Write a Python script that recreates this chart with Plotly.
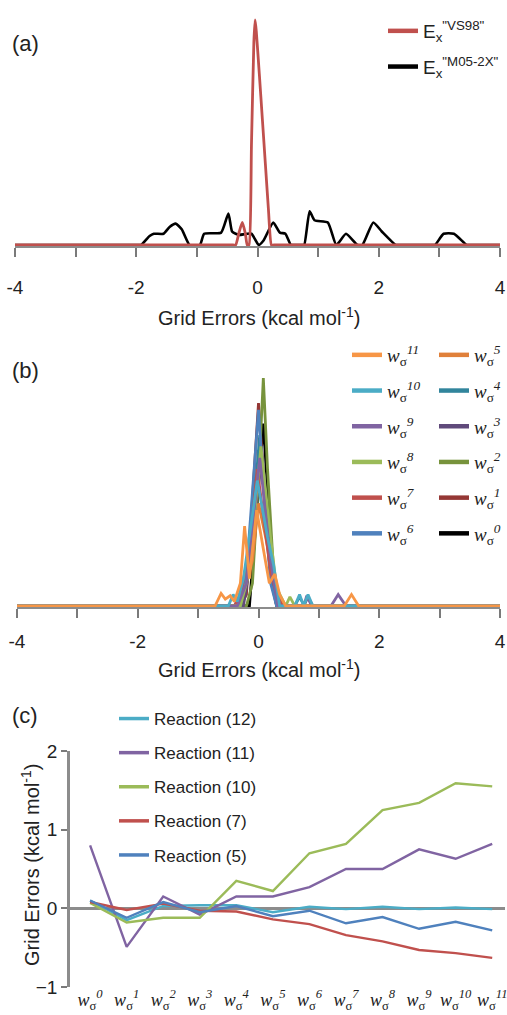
import plotly.graph_objects as go

W, H = 507, 1015

# ---------------- Panel (a) data ----------------
a_vs98_x = [-4, -0.4, -0.36, -0.3, -0.25, -0.2, -0.17, -0.14, -0.1, -0.06, -0.04, -0.02, 0.03, 0.08, 0.13, 0.18,
            0.23, 0.27, 4]
a_vs98_y = [0, 0, 0, 0.06, 0.10, 0.05, 0, 0, 0.44, 0.9, 1.0, 0.95, 0.76, 0.56, 0.36, 0.16,
            0, 0, 0]

a_m05_x = [-4, -1.96, -1.92, -1.78, -1.71, -1.55, -1.45, -1.35, -1.25, -1.12, -0.95, -0.88, -0.6, -0.48,
           -0.42, -0.36, -0.3, -0.1, 0.02, 0.1, 0.26, 0.37, 0.46, 0.55, 0.59, 0.73, 0.77, 0.86, 0.94, 1.16,
           1.3, 1.46, 1.65, 1.73, 1.91, 2.05, 2.28, 2.32, 2.89, 2.93, 3.07, 3.24, 3.45, 3.49, 4]
a_m05_y = [0, 0, 0, 0.04, 0.05, 0.05, 0.08, 0.095, 0.07, 0, 0, 0.05, 0.055, 0.14,
           0.06, 0.05, 0.045, 0.05, 0, 0.02, 0.10, 0.055, 0.05, 0, 0, 0, 0, 0.15, 0.11, 0.10,
           0, 0.05, 0, 0, 0.10, 0.06, 0, 0, 0, 0, 0.05, 0.05, 0, 0, 0]

# ---------------- Panel (b) data ----------------
b_w0_x = [-4, -0.35, -0.3, -0.25, -0.15, 0.08, 0.25, 0.32, 4]
b_w0_y = [0, 0, 0.04, 0, 0, 0.80, 0.1, 0, 0]
b_w1_x = [-4, -0.3, -0.2, -0.1, 0.0, 0.1, 0.2, 0.3, 4]
b_w1_y = [0, 0, 0.05, 0.45, 0.89, 0.5, 0.12, 0, 0]
b_w2_x = [-4, -0.2, -0.1, 0.0, 0.08, 0.15, 0.25, 0.35, 4]
b_w2_y = [0, 0, 0.1, 0.55, 1.0, 0.6, 0.15, 0, 0]
b_w3_x = [-4, -0.25, -0.1, 0.05, 0.2, 0.3, 0.75, 0.82, 0.9, 4]
b_w3_y = [0, 0, 0.25, 0.7, 0.2, 0, 0, 0.04, 0, 0]
b_w4_x = [-4, -0.3, -0.15, 0.02, 0.15, 0.3, 0.6, 0.68, 0.76, 4]
b_w4_y = [0, 0, 0.2, 0.75, 0.3, 0, 0, 0.04, 0, 0]
b_w5_x = [-4, -0.35, -0.25, -0.1, 0.0, 0.12, 0.25, 0.35, 0.45, 4]
b_w5_y = [0, 0, 0.06, 0.2, 0.45, 0.3, 0.12, 0.03, 0, 0]
b_w6_x = [-4, -0.4, -0.3, -0.2, -0.1, 0.0, 0.1, 0.2, 0.3, 4]
b_w6_y = [0, 0, 0.05, 0.15, 0.5, 0.86, 0.45, 0.1, 0, 0]
b_w7_x = [-4, -0.4, -0.3, -0.15, -0.02, 0.1, 0.2, 0.3, 0.4, 4]
b_w7_y = [0, 0, 0.05, 0.25, 0.6, 0.35, 0.15, 0.05, 0, 0]
b_w8_x = [-4, -0.3, -0.15, 0.04, 0.2, 0.3, 0.45, 0.52, 0.6, 4]
b_w8_y = [0, 0, 0.15, 0.7, 0.3, 0.08, 0, 0.04, 0, 0]
b_w9_x = [-4, -0.35, -0.2, 0.02, 0.2, 0.32, 0.75, 0.8, 0.88, 1.2, 1.32, 1.45, 4]
b_w9_y = [0, 0, 0.1, 0.65, 0.2, 0, 0, 0.045, 0, 0, 0.05, 0, 0]
b_w10_x = [-4, -0.5, -0.42, -0.35, -0.25, -0.02, 0.15, 0.25, 0.35, 0.6, 0.68, 0.75, 0.82, 0.9, 4]
b_w10_y = [0, 0, 0.05, 0.02, 0.12, 0.55, 0.3, 0.18, 0, 0, 0.05, 0, 0.05, 0, 0]
b_w11_x = [-4, -0.72, -0.62, -0.55, -0.47, -0.4, -0.3, -0.23, -0.15, -0.03, 0.08, 0.18, 0.27, 0.35, 0.45,
           1.42, 1.54, 1.66, 4]
b_w11_y = [0, 0, 0.055, 0.03, 0.045, 0.02, 0.1, 0.35, 0.12, 0.42, 0.25, 0.1, 0.14, 0.05, 0,
           0, 0.05, 0, 0]

# ---------------- Panel (c) data ----------------
c_categories = ["w0", "w1", "w2", "w3", "w4", "w5", "w6", "w7", "w8", "w9", "w10", "w11"]
c_r12 = [0.10, -0.15, 0.03, 0.04, 0.04, -0.05, 0.02, -0.01, 0.02, -0.01, 0.01, -0.01]
c_r11 = [0.80, -0.49, 0.15, -0.08, 0.15, 0.15, 0.27, 0.50, 0.50, 0.75, 0.63, 0.82]
c_r10 = [0.07, -0.18, -0.12, -0.12, 0.35, 0.22, 0.70, 0.82, 1.25, 1.34, 1.59, 1.55]
c_r7 = [0.08, -0.02, 0.06, -0.03, -0.04, -0.14, -0.20, -0.34, -0.42, -0.53, -0.57, -0.63]
c_r5 = [0.10, -0.12, 0.08, -0.05, 0.03, -0.10, -0.03, -0.19, -0.11, -0.26, -0.17, -0.28]

FONT = "Liberation Sans, Arial, sans-serif"
SERIF = "Liberation Serif, Times New Roman, serif"
TXT = "#222222"
AXC = "#8c8c8c"


def ypaper(px):
    return 1 - px / H


def xpaper(px):
    return px / W


def wlabel(k):
    return f"<i>w</i><sub>σ</sub><sup><i>{k}</i></sup>"


fig = go.Figure()


def add_series(xs, ys, color, width, name, xa, ya, legend, rank, shape, leg_width):
    line = dict(color=color, width=width, shape=shape)
    if shape == "spline":
        line["smoothing"] = 0.5
    fig.add_trace(go.Scatter(x=xs, y=ys, mode="lines", line=line, name=name, xaxis=xa, yaxis=ya,
                             legend=legend, showlegend=False, hoverinfo="skip"))
    # legend entry (thicker sample line, like the reference)
    fig.add_trace(go.Scatter(x=[None], y=[None], mode="lines", line=dict(color=color, width=leg_width),
                             name=name, xaxis=xa, yaxis=ya, legend=legend, legendrank=rank,
                             legendgroup=f"{legend}_{rank}", showlegend=True))


# Panel (a)
add_series(a_m05_x, a_m05_y, "#000000", 2.6, 'E<sub>x</sub><sup>"M05-2X"</sup>', "x", "y", "legend", 2, "spline", 4.5)
add_series(a_vs98_x, a_vs98_y, "#c0504d", 2.8, 'E<sub>x</sub><sup>"VS98"</sup>', "x", "y", "legend", 1, "spline", 4.5)

# Panel (b)
b_series = [
    (0, b_w0_x, b_w0_y, "#000000", "legend3"),
    (1, b_w1_x, b_w1_y, "#953735", "legend3"),
    (2, b_w2_x, b_w2_y, "#77933c", "legend3"),
    (3, b_w3_x, b_w3_y, "#604a7b", "legend3"),
    (4, b_w4_x, b_w4_y, "#31859c", "legend3"),
    (5, b_w5_x, b_w5_y, "#e0803a", "legend3"),
    (6, b_w6_x, b_w6_y, "#4f81bd", "legend2"),
    (7, b_w7_x, b_w7_y, "#c0504d", "legend2"),
    (8, b_w8_x, b_w8_y, "#9bbb59", "legend2"),
    (9, b_w9_x, b_w9_y, "#8064a2", "legend2"),
    (10, b_w10_x, b_w10_y, "#4bacc6", "legend2"),
    (11, b_w11_x, b_w11_y, "#f79646", "legend2"),
]
for k, xs, ys, col, lg in b_series:
    add_series(xs, ys, col, 2.8, wlabel(k), "x2", "y2", lg, 100 - k, "linear", 4.5)

# Panel (c)
c_series = [
    ("Reaction (12)", c_r12, "#4bacc6"),
    ("Reaction (11)", c_r11, "#8064a2"),
    ("Reaction (10)", c_r10, "#9bbb59"),
    ("Reaction (7)", c_r7, "#c0504d"),
    ("Reaction (5)", c_r5, "#4f81bd"),
]
for i, (nm, ys, col) in enumerate(c_series):
    add_series(c_categories, ys, col, 2.4, nm, "x3", "y3", "legend4", i + 1, "linear", 3.5)

# ---- axes geometry (pixel based) ----
ya_lo, ya_hi = -0.004, 1.06
pa = (245 - 20) / 1.0
a_bot = 245 + (-ya_lo) * pa
a_top = a_bot - (ya_hi - ya_lo) * pa
pb = (606 - 378) / 1.0
b_bot = 606 + (-ya_lo) * pb
b_top = b_bot - (ya_hi - ya_lo) * pb

ticks_a = [-4, -3, -2, -1, 0, 1, 2, 3, 4]
ticktext_a = ["-4", "", "-2", "", "0", "", "2", "", "4"]

common_x = dict(range=[-4, 4], showgrid=False, zeroline=False, showline=True, linecolor=AXC,
                linewidth=2.2, ticks="outside", ticklen=9, tickwidth=2, tickcolor="#7a7a7a",
                tickvals=ticks_a, ticktext=ticktext_a, tickfont=dict(size=19, color=TXT, family=FONT),
                layer="below traces", fixedrange=True)
common_y = dict(range=[ya_lo, ya_hi], showgrid=False, zeroline=False, showline=False,
                showticklabels=False, ticks="", fixedrange=True)

fig.update_layout(
    width=W, height=H, margin=dict(l=0, r=0, t=0, b=0, autoexpand=False),
    paper_bgcolor="white", plot_bgcolor="white",
    font=dict(family=FONT, color=TXT),
    xaxis=dict(domain=[xpaper(15), xpaper(500)], anchor="y", ticklabelstandoff=14, **common_x),
    yaxis=dict(domain=[ypaper(a_bot), ypaper(a_top)], anchor="x", **common_y),
    xaxis2=dict(domain=[xpaper(17), xpaper(500)], anchor="y2", ticklabelstandoff=7, **common_x),
    yaxis2=dict(domain=[ypaper(b_bot), ypaper(b_top)], anchor="x2", **common_y),
    xaxis3=dict(domain=[xpaper(70), xpaper(505)], anchor="y3", type="category",
                range=[-0.55, 11.35], showgrid=False, zeroline=False, showline=False, ticks="",
                tickvals=c_categories, ticktext=[wlabel(i) for i in range(12)],
                tickfont=dict(size=18, color=TXT, family=SERIF), fixedrange=True),
    yaxis3=dict(domain=[ypaper(987), ypaper(751)], anchor="x3", range=[-1, 2],
                showgrid=False, zeroline=True, zerolinecolor=AXC, zerolinewidth=2.5,
                showline=True, linecolor=AXC, linewidth=2.5, ticks="outside", ticklen=6,
                tickwidth=2, tickcolor="#7a7a7a", tickvals=[-1, 0, 1, 2],
                tickfont=dict(size=19, color=TXT, family=FONT), fixedrange=True),
    legend=dict(x=xpaper(383), y=ypaper(12), xanchor="left", yanchor="top",
                bgcolor="rgba(0,0,0,0)", font=dict(size=19, family=FONT, color=TXT),
                tracegroupgap=8, traceorder="grouped"),
    legend2=dict(x=xpaper(347), y=ypaper(336), xanchor="left", yanchor="top",
                 bgcolor="rgba(0,0,0,0)", font=dict(size=19, family=SERIF, color=TXT),
                 tracegroupgap=8, traceorder="grouped"),
    legend3=dict(x=xpaper(434), y=ypaper(336), xanchor="left", yanchor="top",
                 bgcolor="rgba(0,0,0,0)", font=dict(size=19, family=SERIF, color=TXT),
                 tracegroupgap=8, traceorder="grouped"),
    legend4=dict(x=xpaper(114), y=ypaper(701), xanchor="left", yanchor="top",
                 bgcolor="rgba(0,0,0,0)", font=dict(size=17, family=FONT, color=TXT),
                 tracegroupgap=9, traceorder="grouped"),
    showlegend=True,
)

title_txt = "Grid Errors (kcal mol<sup>-1</sup>)"
anns = []
for txt, px_x, px_y in [("(a)", 25, 43), ("(b)", 25, 370), ("(c)", 25, 715)]:
    anns.append(dict(text=txt, x=xpaper(px_x), y=ypaper(px_y), xref="paper", yref="paper",
                     showarrow=False, xanchor="center", yanchor="middle",
                     font=dict(size=22, family=FONT, color=TXT)))
anns.append(dict(text=title_txt, x=xpaper(259), y=ypaper(316), xref="paper", yref="paper",
                 showarrow=False, xanchor="center", yanchor="middle",
                 font=dict(size=20, family=FONT, color=TXT)))
anns.append(dict(text=title_txt, x=xpaper(259), y=ypaper(668), xref="paper", yref="paper",
                 showarrow=False, xanchor="center", yanchor="middle",
                 font=dict(size=20, family=FONT, color=TXT)))
anns.append(dict(text=title_txt, x=xpaper(30), y=ypaper(865), xref="paper", yref="paper",
                 showarrow=False, xanchor="center", yanchor="middle", textangle=-90,
                 font=dict(size=20, family=FONT, color=TXT)))
fig.update_layout(annotations=anns)

fig.write_html("out.html", config={"displayModeBar": False},
               post_script="document.body.style.margin='0';document.body.style.overflow='hidden';")
